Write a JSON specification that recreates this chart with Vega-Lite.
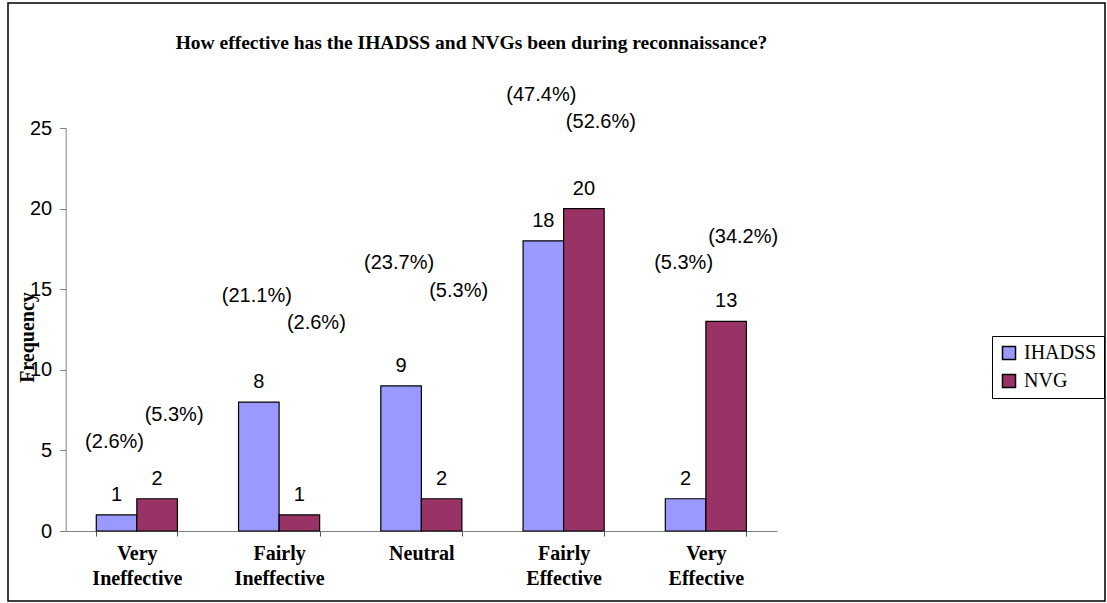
{
  "$schema": "https://vega.github.io/schema/vega-lite/v6.json",
  "width": 1097,
  "height": 598,
  "autosize": "none",
  "padding": {"left": 8, "top": 3, "right": 2, "bottom": 2},
  "background": "white",
  "config": {
    "view": {"stroke": "black", "strokeWidth": 1.5},
    "axis": {"grid": false}
  },
  "title": {
    "text": "How effective has the IHADSS and NVGs been during reconnaissance?",
    "font": "Liberation Serif",
    "fontSize": 19.5,
    "fontWeight": "bold",
    "color": "black",
    "anchor": "middle",
    "frame": "group",
    "orient": "top",
    "baseline": "middle",
    "offset": -59,
    "dx": -85
  },
  "data": {
    "values": [
      {"category": "Very Ineffective", "series": "IHADSS", "value": 1, "pct": "(2.6%)", "pct_y": 5.5},
      {"category": "Very Ineffective", "series": "NVG", "value": 2, "pct": "(5.3%)", "pct_y": 7.2},
      {"category": "Fairly Ineffective", "series": "IHADSS", "value": 8, "pct": "(21.1%)", "pct_y": 14.6},
      {"category": "Fairly Ineffective", "series": "NVG", "value": 1, "pct": "(2.6%)", "pct_y": 12.9},
      {"category": "Neutral", "series": "IHADSS", "value": 9, "pct": "(23.7%)", "pct_y": 16.6},
      {"category": "Neutral", "series": "NVG", "value": 2, "pct": "(5.3%)", "pct_y": 14.9},
      {"category": "Fairly Effective", "series": "IHADSS", "value": 18, "pct": "(47.4%)", "pct_y": 27.05},
      {"category": "Fairly Effective", "series": "NVG", "value": 20, "pct": "(52.6%)", "pct_y": 25.4},
      {"category": "Very Effective", "series": "IHADSS", "value": 2, "pct": "(5.3%)", "pct_y": 16.6},
      {"category": "Very Effective", "series": "NVG", "value": 13, "pct": "(34.2%)", "pct_y": 18.25}
    ]
  },
  "encoding": {
    "x": {
      "field": "category",
      "type": "nominal",
      "sort": ["Very Ineffective", "Fairly Ineffective", "Neutral", "Fairly Effective", "Very Effective"],
      "scale": {"range": [57.7, 769], "paddingInner": 0.43, "paddingOuter": 0.215},
      "axis": {
        "title": null,
        "orient": "bottom",
        "offset": -70,
        "tickBand": "extent",
        "domainColor": "#808080",
        "tickColor": "#555555",
        "tickSize": 5,
        "labelFont": "Liberation Serif",
        "labelFontSize": 20,
        "labelFontWeight": "bold",
        "labelColor": "black",
        "labelPadding": 7,
        "labelAngle": 0,
        "labelBaseline": "top",
        "labelLineHeight": 25,
        "labelExpr": "split(datum.label, ' ')"
      }
    },
    "xOffset": {"field": "series", "type": "nominal", "sort": ["IHADSS", "NVG"]}
  },
  "layer": [
    {
      "mark": {"type": "bar", "stroke": "black", "strokeWidth": 1.2, "opacity": 1},
      "encoding": {
        "y": {
          "field": "value",
          "type": "quantitative",
          "title": "Frequency",
          "scale": {"domain": [0, 25], "range": [528, 125], "nice": false, "zero": true},
          "axis": {
            "title": "Frequency",
            "values": [0, 5, 10, 15, 20, 25],
            "offset": -57.7,
            "domainColor": "#808080",
            "tickColor": "#808080",
            "tickSize": 6,
            "labelFont": "Liberation Sans",
            "labelFontSize": 20,
            "labelColor": "black",
            "labelPadding": 8,
            "titleFont": "Liberation Serif",
            "titleFontSize": 20,
            "titleFontWeight": "bold",
            "titleColor": "black",
            "titleAngle": -90,
            "titleAlign": "center",
            "titleBaseline": "middle",
            "titleX": -38,
            "titleY": 334
          }
        },
        "color": {
          "field": "series",
          "type": "nominal",
          "scale": {"domain": ["IHADSS", "NVG"], "range": ["#9999FF", "#993366"]},
          "legend": {
            "title": null,
            "orient": "none",
            "legendX": 984,
            "legendY": 333,
            "symbolType": "square",
            "symbolSize": 169,
            "symbolStrokeColor": "black",
            "symbolStrokeWidth": 1.5,
            "symbolOpacity": 1,
            "labelFont": "Liberation Serif",
            "labelFontSize": 20,
            "labelColor": "black",
            "labelOffset": 5,
            "padding": 7,
            "rowPadding": 8,
            "strokeColor": "black",
            "fillColor": "white"
          }
        }
      }
    },
    {
      "mark": {"type": "text", "baseline": "alphabetic", "align": "center", "dy": -14, "font": "Liberation Sans", "fontSize": 20, "color": "black"},
      "encoding": {
        "y": {"field": "value", "type": "quantitative", "title": "Frequency"},
        "text": {"field": "value", "type": "quantitative"}
      }
    },
    {
      "transform": [{"filter": "datum.series === 'IHADSS'"}],
      "mark": {"type": "text", "baseline": "middle", "align": "center", "dx": -2, "font": "Liberation Sans", "fontSize": 20, "color": "black"},
      "encoding": {
        "y": {"field": "pct_y", "type": "quantitative", "title": "Frequency"},
        "text": {"field": "pct", "type": "nominal"}
      }
    },
    {
      "transform": [{"filter": "datum.series === 'NVG'"}],
      "mark": {"type": "text", "baseline": "middle", "align": "center", "dx": 17, "font": "Liberation Sans", "fontSize": 20, "color": "black"},
      "encoding": {
        "y": {"field": "pct_y", "type": "quantitative", "title": "Frequency"},
        "text": {"field": "pct", "type": "nominal"}
      }
    }
  ]
}
